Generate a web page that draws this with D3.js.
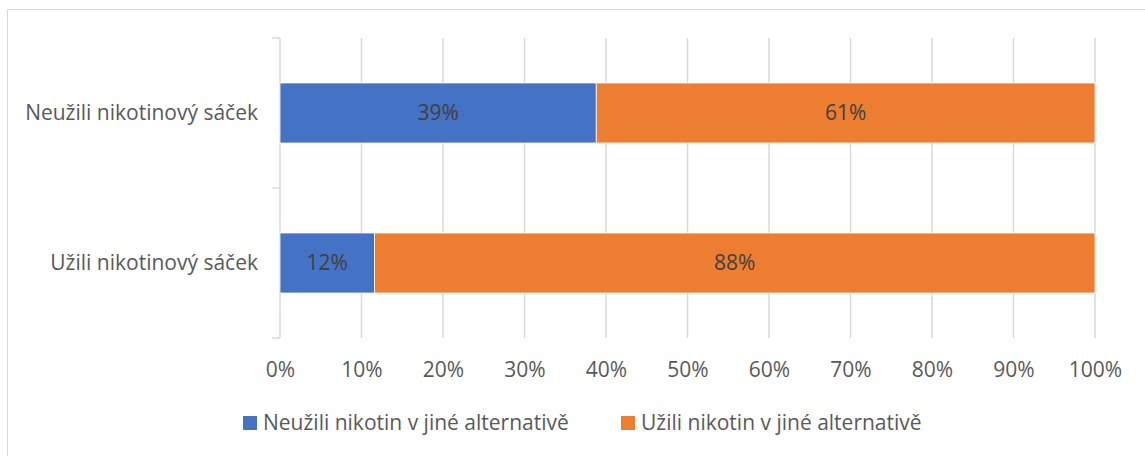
<!DOCTYPE html>
<html>
<head>
<meta charset="utf-8">
<script src="https://cdn.jsdelivr.net/npm/d3@7"></script>
<style>
	body { margin: 0; background: #fff; }
	svg { display: block; font-family: "Open Sans", Lato, sans-serif; }
</style>
</head>
<body>
<svg id="chart" width="1145" height="456"></svg>
<script>
// kategorie (odshora dolů)
var categories = ["Neužili nikotinový sáček", "Užili nikotinový sáček"]
var seriesNames = ["Neužili nikotin v jiné alternativě", "Užili nikotin v jiné alternativě"]
var neuzili = [0.388, 0.116]
var uzili = [0.612, 0.884]
var labelsNeuzili = ["39%", "12%"]
var labelsUzili = ["61%", "88%"]
var xTicks = [0, 0.1, 0.2, 0.3, 0.4, 0.5, 0.6, 0.7, 0.8, 0.9, 1]
var colors = ["#4472C4", "#ED7D31"]

var svg = d3.select("#chart")
var textColor = "#595959"
var fontSize = "21px"

// rámeček grafu
svg.append("rect")
	.attr("x", 7.5).attr("y", 9.5)
	.attr("width", 1145).attr("height", 460)
	.attr("fill", "none")
	.attr("stroke", "#d9d9d9")

var x = d3.scaleLinear().domain([0, 1]).range([280, 1095])
var y = d3.scaleBand().domain(categories).range([38, 338]).paddingInner(0.6).paddingOuter(0.3)

// mřížka
svg.append("g").selectAll("line")
	.data(xTicks.slice(1))
	.enter().append("line")
	.attr("x1", function(d) { return x(d) }).attr("x2", function(d) { return x(d) })
	.attr("y1", 38).attr("y2", 338)
	.attr("stroke", "#d9d9d9").attr("stroke-width", 1.5)

// osa kategorií
var yAxis = svg.append("g")
	.attr("transform", "translate(280,0)")
yAxis.append("line")
	.attr("x1", 0).attr("x2", 0).attr("y1", 38).attr("y2", 338)
	.attr("stroke", "#d9d9d9").attr("stroke-width", 1.5)
var tickYs = [38, 188, 338]
yAxis.selectAll("line.tick")
	.data(tickYs)
	.enter().append("line")
	.attr("class", "tick")
	.attr("x1", -8).attr("x2", 0)
	.attr("y1", function(d) { return d }).attr("y2", function(d) { return d })
	.attr("stroke", "#d9d9d9").attr("stroke-width", 1.5)

svg.append("g").selectAll("text")
	.data(categories)
	.enter().append("text")
	.attr("x", 258)
	.attr("y", function(d) { return y(d) + y.bandwidth() / 2 })
	.attr("dy", "0.35em")
	.attr("text-anchor", "end")
	.attr("fill", textColor)
	.style("font-size", fontSize)
	.text(function(d) { return d })

// sloupce
var stacked = categories.map(function(c, i) {
	return [
		{cat: c, x0: 0, x1: neuzili[i], label: labelsNeuzili[i], s: 0},
		{cat: c, x0: neuzili[i], x1: neuzili[i] + uzili[i], label: labelsUzili[i], s: 1}
	]
})
var segs = [].concat.apply([], stacked)

svg.append("g").selectAll("rect")
	.data(segs)
	.enter().append("rect")
	.attr("x", function(d) { return x(d.x0) })
	.attr("y", function(d) { return y(d.cat) })
	.attr("width", function(d) { return x(d.x1) - x(d.x0) })
	.attr("height", y.bandwidth())
	.attr("fill", function(d) { return colors[d.s] })
	.attr("stroke", "#fff").attr("stroke-width", 0.75)

svg.append("g").selectAll("text")
	.data(segs)
	.enter().append("text")
	.attr("x", function(d) { return (x(d.x0) + x(d.x1)) / 2 })
	.attr("y", function(d) { return y(d.cat) + y.bandwidth() / 2 })
	.attr("dy", "0.35em")
	.attr("text-anchor", "middle")
	.attr("fill", "#404040")
	.style("font-size", fontSize)
	.text(function(d) { return d.label })

// osa x
var xAxis = d3.axisBottom(x).tickValues(xTicks).tickFormat(d3.format(".0%")).tickSize(0).tickPadding(0)
var gx = svg.append("g")
	.attr("transform", "translate(0,370)")
	.call(xAxis)
gx.select(".domain").remove()
gx.selectAll("text")
	.attr("y", 0).attr("dy", "0.35em")
	.attr("fill", textColor)
	.style("font-size", fontSize)
	.style("font-family", "'Open Sans', Lato, sans-serif")

// legenda
var legendX = [243, 621]
var legend = svg.append("g").selectAll("g")
	.data(seriesNames)
	.enter().append("g")
	.attr("transform", function(d, i) { return "translate(" + legendX[i] + ",423)" })
legend.append("rect")
	.attr("x", 0).attr("y", -7).attr("width", 14).attr("height", 14)
	.attr("fill", function(d, i) { return colors[i] })
legend.append("text")
	.attr("x", 20).attr("dy", "0.35em")
	.attr("fill", textColor)
	.style("font-size", fontSize)
	.text(function(d) { return d })
</script>
</body>
</html>
